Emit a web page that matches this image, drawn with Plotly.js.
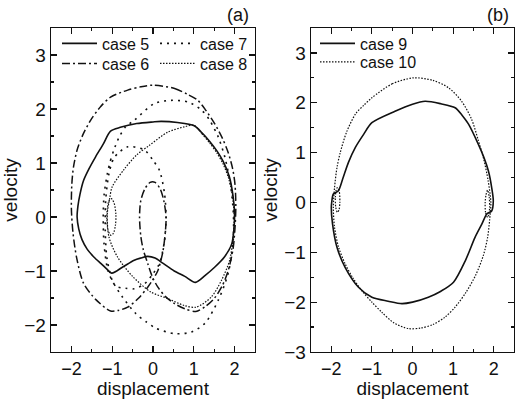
<!DOCTYPE html>
<html>
<head>
<meta charset="utf-8">
<script src="https://cdn.plot.ly/plotly-3.0.1.min.js"></script>
<style>html,body{margin:0;padding:0;background:#fff;}#chart{width:525px;height:399px;}</style>
</head>
<body>
<div id="chart"></div>
<script>
// ---- panel (a) ----
const case5_x = [-1.04,-0.8,-0.4,0.0,0.2,0.6,1.01,1.2,1.39,1.57,1.72,1.87,1.96,2.0,1.98,1.93,1.75,1.51,1.28,1.04,0.78,0.52,0.25,0.05,-0.13,-0.3,-0.46,-0.75,-1.01,-1.15,-1.28,-1.45,-1.61,-1.74,-1.82,-1.86,-1.84,-1.79,-1.7,-1.55,-1.41,-1.22,-1.04];
const case5_y = [1.59,1.66,1.73,1.76,1.77,1.75,1.69,1.56,1.4,1.22,1.03,0.75,0.4,0.05,-0.25,-0.5,-0.74,-0.93,-1.08,-1.21,-1.1,-1.0,-0.86,-0.76,-0.73,-0.76,-0.8,-0.93,-1.04,-0.95,-0.86,-0.74,-0.6,-0.42,-0.22,0.0,0.2,0.42,0.68,0.92,1.11,1.35,1.59];

const case6_x = [0,0.53,0.85,1.1,1.3,1.51,1.7,1.84,1.95,2.01,2.03,2.01,1.96,1.84,1.7,1.51,1.28,1.05,0.78,0.52,0.3,0.12,-0.02,-0.13,-0.24,-0.3,-0.33,-0.3,-0.2,-0.07,0.05,0.17,0.26,0.32,0.3,0.24,0.12,-0.02,-0.13,-0.35,-0.62,-0.85,-1.04,-1.4,-1.7,-1.87,-1.96,-2.0,-1.99,-1.95,-1.86,-1.72,-1.53,-1.3,-1.04,-0.62,-0.3,0];
const case6_y = [2.44,2.38,2.27,2.16,1.97,1.73,1.46,1.2,0.9,0.6,0.2,-0.2,-0.6,-1.0,-1.27,-1.5,-1.66,-1.75,-1.7,-1.6,-1.47,-1.3,-1.1,-0.86,-0.6,-0.35,0,0.3,0.52,0.64,0.64,0.53,0.32,0.0,-0.3,-0.65,-0.99,-1.18,-1.3,-1.5,-1.67,-1.73,-1.74,-1.53,-1.23,-0.76,-0.3,0.15,0.6,0.92,1.24,1.52,1.79,2.03,2.22,2.35,2.41,2.44];

const case7_x = [-1.12,-1.04,-0.96,-0.83,-0.67,-0.46,0.03,0.44,0.86,1.19,1.39,1.6,1.76,1.9,1.97,1.96,1.84,1.6,1.27,0.94,0.53,0.07,-0.17,-0.42,-0.75,-1.0,-1.13,-1.17,-1.16,-1.08,-0.95,-0.62,-0.21,0.0,0.16,0.28,0.32,0.28,0.16,0.0,-0.21,-0.46,-0.67,-0.91,-1.1,-1.2,-1.22,-1.2,-1.12];
const case7_y = [0.8,1.05,1.24,1.48,1.67,1.79,2.1,2.16,2.13,1.98,1.79,1.48,1.11,0.6,0.05,-0.5,-1.05,-1.54,-1.97,-2.13,-2.16,-2.06,-1.94,-1.79,-1.48,-1.17,-0.75,-0.25,0.3,0.8,1.1,1.3,1.24,1.05,0.86,0.45,0,-0.45,-0.86,-1.05,-1.24,-1.33,-1.32,-1.28,-1.0,-0.5,0,0.4,0.8];

const case8_x = [1.0,1.2,1.4,1.57,1.72,1.86,1.95,1.99,1.96,1.88,1.68,1.43,1.06,0.77,0.36,-0.05,-0.5,-0.87,-1.08,-1.12,-1.06,-1.0,-0.71,-0.4,-0.1,0.36,0.77,1.0,null,-1.02,-0.95,-0.91,-0.92,-0.97,-1.03,-1.1,-1.13,-1.12,-1.08,-1.02];
const case8_y = [1.7,1.54,1.36,1.18,0.98,0.7,0.38,0,-0.4,-0.8,-1.17,-1.48,-1.67,-1.64,-1.51,-1.39,-1.1,-0.74,-0.37,0.06,0.35,0.56,0.88,1.15,1.32,1.57,1.67,1.7,null,0.34,0.25,0.05,-0.15,-0.3,-0.34,-0.25,-0.05,0.15,0.3,0.34];

// ---- panel (b) ----
const case9_x = [-1.0,-0.43,0.0,0.31,0.7,1.05,1.22,1.38,1.62,1.76,1.87,1.95,1.99,1.95,1.83,1.71,1.54,1.3,1.01,0.7,0.39,0.0,-0.26,-0.6,-1.0,-1.33,-1.66,-1.86,-1.97,-2.0,-1.99,-1.95,-1.83,-1.72,-1.58,-1.41,-1.2,-1.0];
const case9_y = [1.6,1.83,1.97,2.03,1.98,1.9,1.75,1.57,1.17,0.9,0.63,0.3,0.03,-0.17,-0.23,-0.43,-0.7,-1.17,-1.6,-1.78,-1.9,-2.0,-2.03,-1.98,-1.9,-1.7,-1.3,-0.9,-0.43,-0.1,0.0,0.17,0.23,0.47,0.8,1.1,1.37,1.6];

const case10_x = [-1.0,-0.5,0.02,0.5,0.89,1.21,1.45,1.62,1.76,1.86,1.93,1.9,1.85,1.75,1.56,1.32,1.05,0.8,0.5,0.2,-0.1,-0.45,-0.76,-1.0,-1.25,-1.48,-1.66,-1.82,-1.92,-1.95,-1.92,-1.86,-1.78,-1.62,-1.4,-1.2,-1.0,null,-1.85,-1.8,-1.79,-1.81,-1.85,-1.89,-1.9,-1.88,-1.85,null,1.85,1.8,1.79,1.81,1.85,1.89,1.9,1.88,1.85];
const case10_y = [2.1,2.38,2.5,2.45,2.3,2.03,1.68,1.25,0.85,0.45,0.0,-0.35,-0.7,-1.05,-1.45,-1.8,-2.1,-2.3,-2.45,-2.52,-2.53,-2.42,-2.2,-2.0,-1.77,-1.5,-1.23,-0.9,-0.5,-0.1,0.3,0.7,1.0,1.42,1.78,1.95,2.1,null,0.3,0.2,0.0,-0.15,-0.2,-0.1,0.1,0.25,0.3,null,-0.3,-0.2,0.0,0.15,0.25,0.1,-0.1,-0.25,-0.3];

const xTicks = [-2,-1,0,1,2];
const yTicksA = [-2,-1,0,1,2,3];
const yTicksB = [-3,-2,-1,0,1,2,3];

const ink = '#111';
const FONT = 'Liberation Sans, Arial, sans-serif';

function tr(name, x, y, dash, width, xa, ya, legend) {
  return {type:'scatter', mode:'lines', name:name, x:x, y:y, xaxis:xa, yaxis:ya, legend:legend,
    connectgaps:false,
    line:{color:ink, width:width, dash:dash, shape:'spline', smoothing:0.8}};
}

const data = [
  tr('case 5', case5_x, case5_y, 'solid', 1.6, 'x', 'y', 'legend'),
  tr('case 6', case6_x, case6_y, '8px,3px,2px,3px', 1.5, 'x', 'y', 'legend2'),
  tr('case 7', case7_x, case7_y, '2px,5px', 1.6, 'x', 'y', 'legend3'),
  tr('case 8', case8_x, case8_y, '1.5px,1.5px', 1.2, 'x', 'y', 'legend4'),
  tr('case 9', case9_x, case9_y, 'solid', 1.6, 'x2', 'y2', 'legend5'),
  tr('case 10', case10_x, case10_y, '1.5px,1.5px', 1.2, 'x2', 'y2', 'legend6')
];

function axisBase(size, extra) {
  return Object.assign({
    showgrid:false, zeroline:false, showline:true, linecolor:ink, linewidth:1.3,
    mirror:'ticks', ticks:'inside', ticklen:6, tickwidth:1.2, tickcolor:ink,
    minor:{ticks:'inside', ticklen:3, tickwidth:1.2, tickcolor:ink, dtick:0.5, showgrid:false},
    tickfont:{family:FONT, size:size, color:ink}, fixedrange:true
  }, extra);
}

const W = 525, H = 399;
const L = 51, R = 11, T = 28, B = 47;
const pw = W - L - R, ph = H - T - B;
function dx(px) { return (px - L) / pw; }
function dy(py) { return 1 - (py - T) / ph; }

const legendBase = {font:{family:FONT, size:16, color:ink}, bgcolor:'rgba(0,0,0,0)', borderwidth:0,
  xanchor:'left', yanchor:'middle', tracegroupgap:0, itemwidth:35};
function lg(px, py) { return Object.assign({}, legendBase, {x:dx(px), y:dy(py)}); }

const titleFont = {family:FONT, size:19, color:ink};

const layout = {
  width:W, height:H, paper_bgcolor:'#fff', plot_bgcolor:'#fff',
  margin:{l:L, r:R, t:T, b:B},
  showlegend:true,
  font:{family:FONT, color:ink},
  xaxis: axisBase(18, {domain:[0, dx(255)], range:[-2.5,2.5], tickvals:xTicks, anchor:'y',
    title:{text:'displacement', font:titleFont, standoff:5}}),
  yaxis: axisBase(19, {domain:[0,1], range:[-2.5,3.5], tickvals:yTicksA, anchor:'x',
    title:{text:'velocity', font:titleFont, standoff:3}}),
  xaxis2: axisBase(18, {domain:[dx(311), 1], range:[-2.5,2.5], tickvals:xTicks, anchor:'y2',
    title:{text:'displacement', font:titleFont, standoff:5}}),
  yaxis2: axisBase(19, {domain:[0,1], range:[-3,3.5], tickvals:yTicksB, anchor:'x2',
    title:{text:'velocity', font:titleFont, standoff:1}}),
  legend: lg(57, 43.5),
  legend2: lg(57, 63.5),
  legend3: lg(155, 43.5),
  legend4: lg(155, 63.5),
  legend5: lg(315, 43.5),
  legend6: lg(315, 62),
  annotations:[
    {text:'(a)', xref:'paper', yref:'paper', x:dx(251), y:1 + (T-15)/ph, xanchor:'right', yanchor:'middle', showarrow:false, font:{family:FONT, size:18, color:ink}},
    {text:'(b)', xref:'paper', yref:'paper', x:dx(511), y:1 + (T-15)/ph, xanchor:'right', yanchor:'middle', showarrow:false, font:{family:FONT, size:18, color:ink}}
  ]
};

Plotly.newPlot('chart', data, layout, {staticPlot:true, displayModeBar:false});
</script>
</body>
</html>
